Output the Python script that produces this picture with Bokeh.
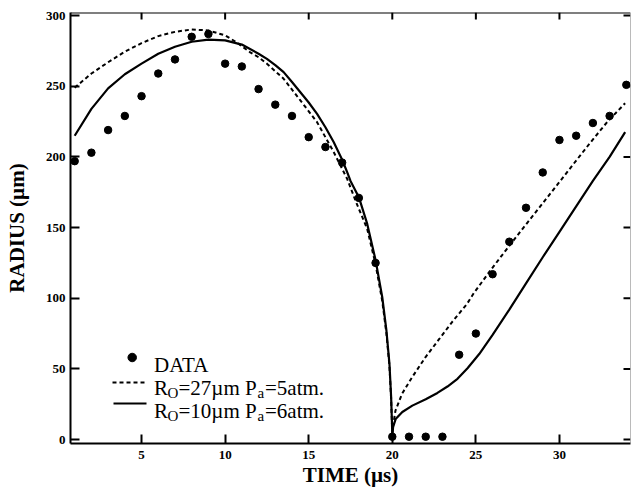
from bokeh.plotting import figure
from bokeh.models import FixedTicker, Label, Span
from bokeh.embed import file_html
from bokeh.resources import INLINE

# ---------------- data ----------------
time_data = [1, 2, 3, 4, 5, 6, 7, 8, 9, 10, 11, 12, 13, 14, 15, 16, 17, 18, 19,
             20, 21, 22, 23, 24, 25, 26, 27, 28, 29, 30, 31, 32, 33, 34]
radius_data = [197, 203, 219, 229, 243, 259, 269, 285, 287, 266, 264, 248, 237, 229, 214, 207, 196, 171, 125,
               2, 2, 2, 2, 60, 75, 117, 140, 164, 189, 212, 215, 224, 229, 251]

# R0 = 27 um, Pa = 5 atm (dashed)
time_r27 = [1.0, 2.0, 3.0, 4.0, 5.0, 6.0, 7.0, 8.0, 9.0, 10.0, 10.7, 11.5, 12.0, 12.5, 13.5, 14.5,
            15.5, 16.5, 17.3, 17.8, 18.5, 19.0, 19.4, 19.65, 19.83, 19.93, 19.98, 20.0,
            20.05, 20.19, 20.58, 21.18, 21.98, 22.8, 23.6, 24.47, 24.87, 25.86, 26.86, 27.85,
            28.85, 29.85, 30.84, 31.84, 32.84, 33.93]
radius_r27 = [249, 259, 267, 274.5, 280.5, 285.5, 288.5, 290.2, 289.5, 286, 281, 274, 270.5, 266, 255.3, 240,
              224.6, 203.3, 184.5, 169, 149, 124, 98, 75, 52, 29, 11, 3,
              10, 20.5, 32.3, 44, 58.2, 71, 83.5, 96, 103.5, 119.5, 135, 150,
              165, 180, 195, 210, 224.5, 238]

# R0 = 10 um, Pa = 6 atm (solid)
time_r10 = [1.0, 2.0, 3.0, 4.0, 5.0, 6.0, 7.0, 8.0, 9.0, 10.0, 11.0, 12.0, 12.5, 13.0, 13.5, 14.0, 14.5,
            15.0, 15.5, 16.0, 16.5, 17.0, 17.3, 17.5, 18.0, 18.5, 19.0, 19.4, 19.65, 19.83, 19.93, 19.98, 20.0,
            20.05, 20.2, 20.6, 21.2, 22.0, 22.7, 23.3, 23.9, 24.5, 25.2, 26.0, 27.0, 28.0, 29.0,
            30.0, 31.0, 32.0, 33.0, 33.93]
radius_r10 = [215, 234, 248.5, 258.5, 266, 273, 278, 281.5, 283, 282.5, 279.5, 273, 269.4, 265, 260, 253, 245.8,
              238.5, 230.5, 221, 210.4, 198, 189.2, 183, 171.5, 152.6, 127, 100.7, 77, 53.6, 30, 12, 3,
              9, 14.5, 19.5, 24, 28.5, 33, 37.5, 43, 50.5, 60.5, 74, 92, 110.5, 129,
              147, 165, 183, 200, 217.5]

x_ticks = [5, 10, 15, 20, 25, 30]
y_ticks = [0, 50, 100, 150, 200, 250, 300]

legend_data = "DATA"
legend_r27 = ["R", "O", "=27\u00b5m P", "a", "=5atm."]
legend_r10 = ["R", "O", "=10\u00b5m P", "a", "=6atm."]

# ---------------- styling / layout ----------------
SERIF = "Liberation Serif"
X0, X1 = 0.75, 34.25
Y0, Y1 = -2.8, 302.2
W, H = 631, 493
BL, BR, BT, BB = 70, 1, 12, 50
FRAME_W = W - BL - BR
FRAME_H = H - BT - BB

p = figure(width=W, height=H, output_backend="svg", toolbar_location=None, title=None,
           x_range=(X0, X1), y_range=(Y0, Y1),
           min_border_left=BL, min_border_right=BR, min_border_top=BT, min_border_bottom=BB,
           background_fill_color="white", border_fill_color="white")
p.outline_line_color = None
p.xgrid.visible = False
p.ygrid.visible = False

for ax, ticks in ((p.xaxis[0], x_ticks), (p.yaxis[0], y_ticks)):
    ax.ticker = FixedTicker(ticks=ticks)
    ax.major_tick_in = 9
    ax.major_tick_out = 0
    ax.minor_tick_in = 0
    ax.minor_tick_out = 0
    ax.major_tick_line_color = "black"
    ax.major_tick_line_width = 2
    ax.axis_line_width = 2
    ax.axis_line_color = "black"
    ax.major_label_text_font = SERIF
    ax.major_label_text_font_style = "bold"
    ax.major_label_text_font_size = "13px"
    ax.major_label_text_color = "black"
    ax.axis_label_text_font = SERIF
    ax.axis_label_text_font_style = "bold"
    ax.axis_label_text_font_size = "21px"
    ax.axis_label_text_color = "black"

xa = p.xaxis[0]
xa.major_label_standoff = 7
xa.axis_label = "TIME (\u00b5s)"
xa.axis_label_standoff = 1

ya = p.yaxis[0]
ya.major_label_standoff = 5
ya.axis_label = "RADIUS (\u00b5m)"
ya.axis_label_standoff = 14

# top and right spines
p.add_layout(Span(location=Y1, dimension="width", line_color="black", line_width=2))
p.add_layout(Span(location=X1, dimension="height", line_color="#777777", line_width=1))

# inward tick marks on the top and right sides (tick length in pixels, converted to data units)
dx = (X1 - X0) / FRAME_W
dy = (Y1 - Y0) / FRAME_H
p.multi_line(xs=[[t, t] for t in x_ticks], ys=[[Y1, Y1 - 7 * dy] for t in x_ticks],
             line_color="black", line_width=2)
p.multi_line(xs=[[X1, X1 - 7 * dx] for r in y_ticks], ys=[[r, r] for r in y_ticks],
             line_color="black", line_width=2)

# curves and data
p.line(time_r27, radius_r27, line_color="black", line_width=2, line_dash="4 3")
p.line(time_r10, radius_r10, line_color="black", line_width=2.2)
p.scatter(time_data, radius_data, size=7.5, marker="circle", fill_color="black", line_color="black")


# ---------------- legend (drawn by hand; layout constants in picture pixels) ----------------
def tx(px):
    return X0 + (px - BL) * dx


def ry(py):
    return Y1 - (py - BT) * dy


p.scatter([tx(131.7)], [ry(357)], size=8.5, marker="circle", fill_color="black", line_color="black")
p.line([tx(112), tx(147)], [ry(382), ry(382)], line_color="black", line_width=1.8, line_dash="4 3")
p.line([tx(113), tx(146)], [ry(403), ry(403)], line_color="black", line_width=2)


def add_text(txt, px, py, size):
    p.add_layout(Label(x=tx(px), y=ry(py), text=txt, text_font=SERIF, text_font_size=size,
                       text_align="left", text_baseline="alphabetic", text_color="black"))


add_text(legend_data, 153.5, 364, "21px")
xs = [153.5, 167, 178, 257, 264.5]
for row, (base, sub) in zip([legend_r27, legend_r10], [(387.5, 392.5), (410, 415)]):
    for i, piece in enumerate(row):
        if i in (1, 3):
            add_text(piece, xs[i], sub, "15px")
        else:
            add_text(piece, xs[i], base, "21px")

open("out.html", "w").write(file_html(p, INLINE))
